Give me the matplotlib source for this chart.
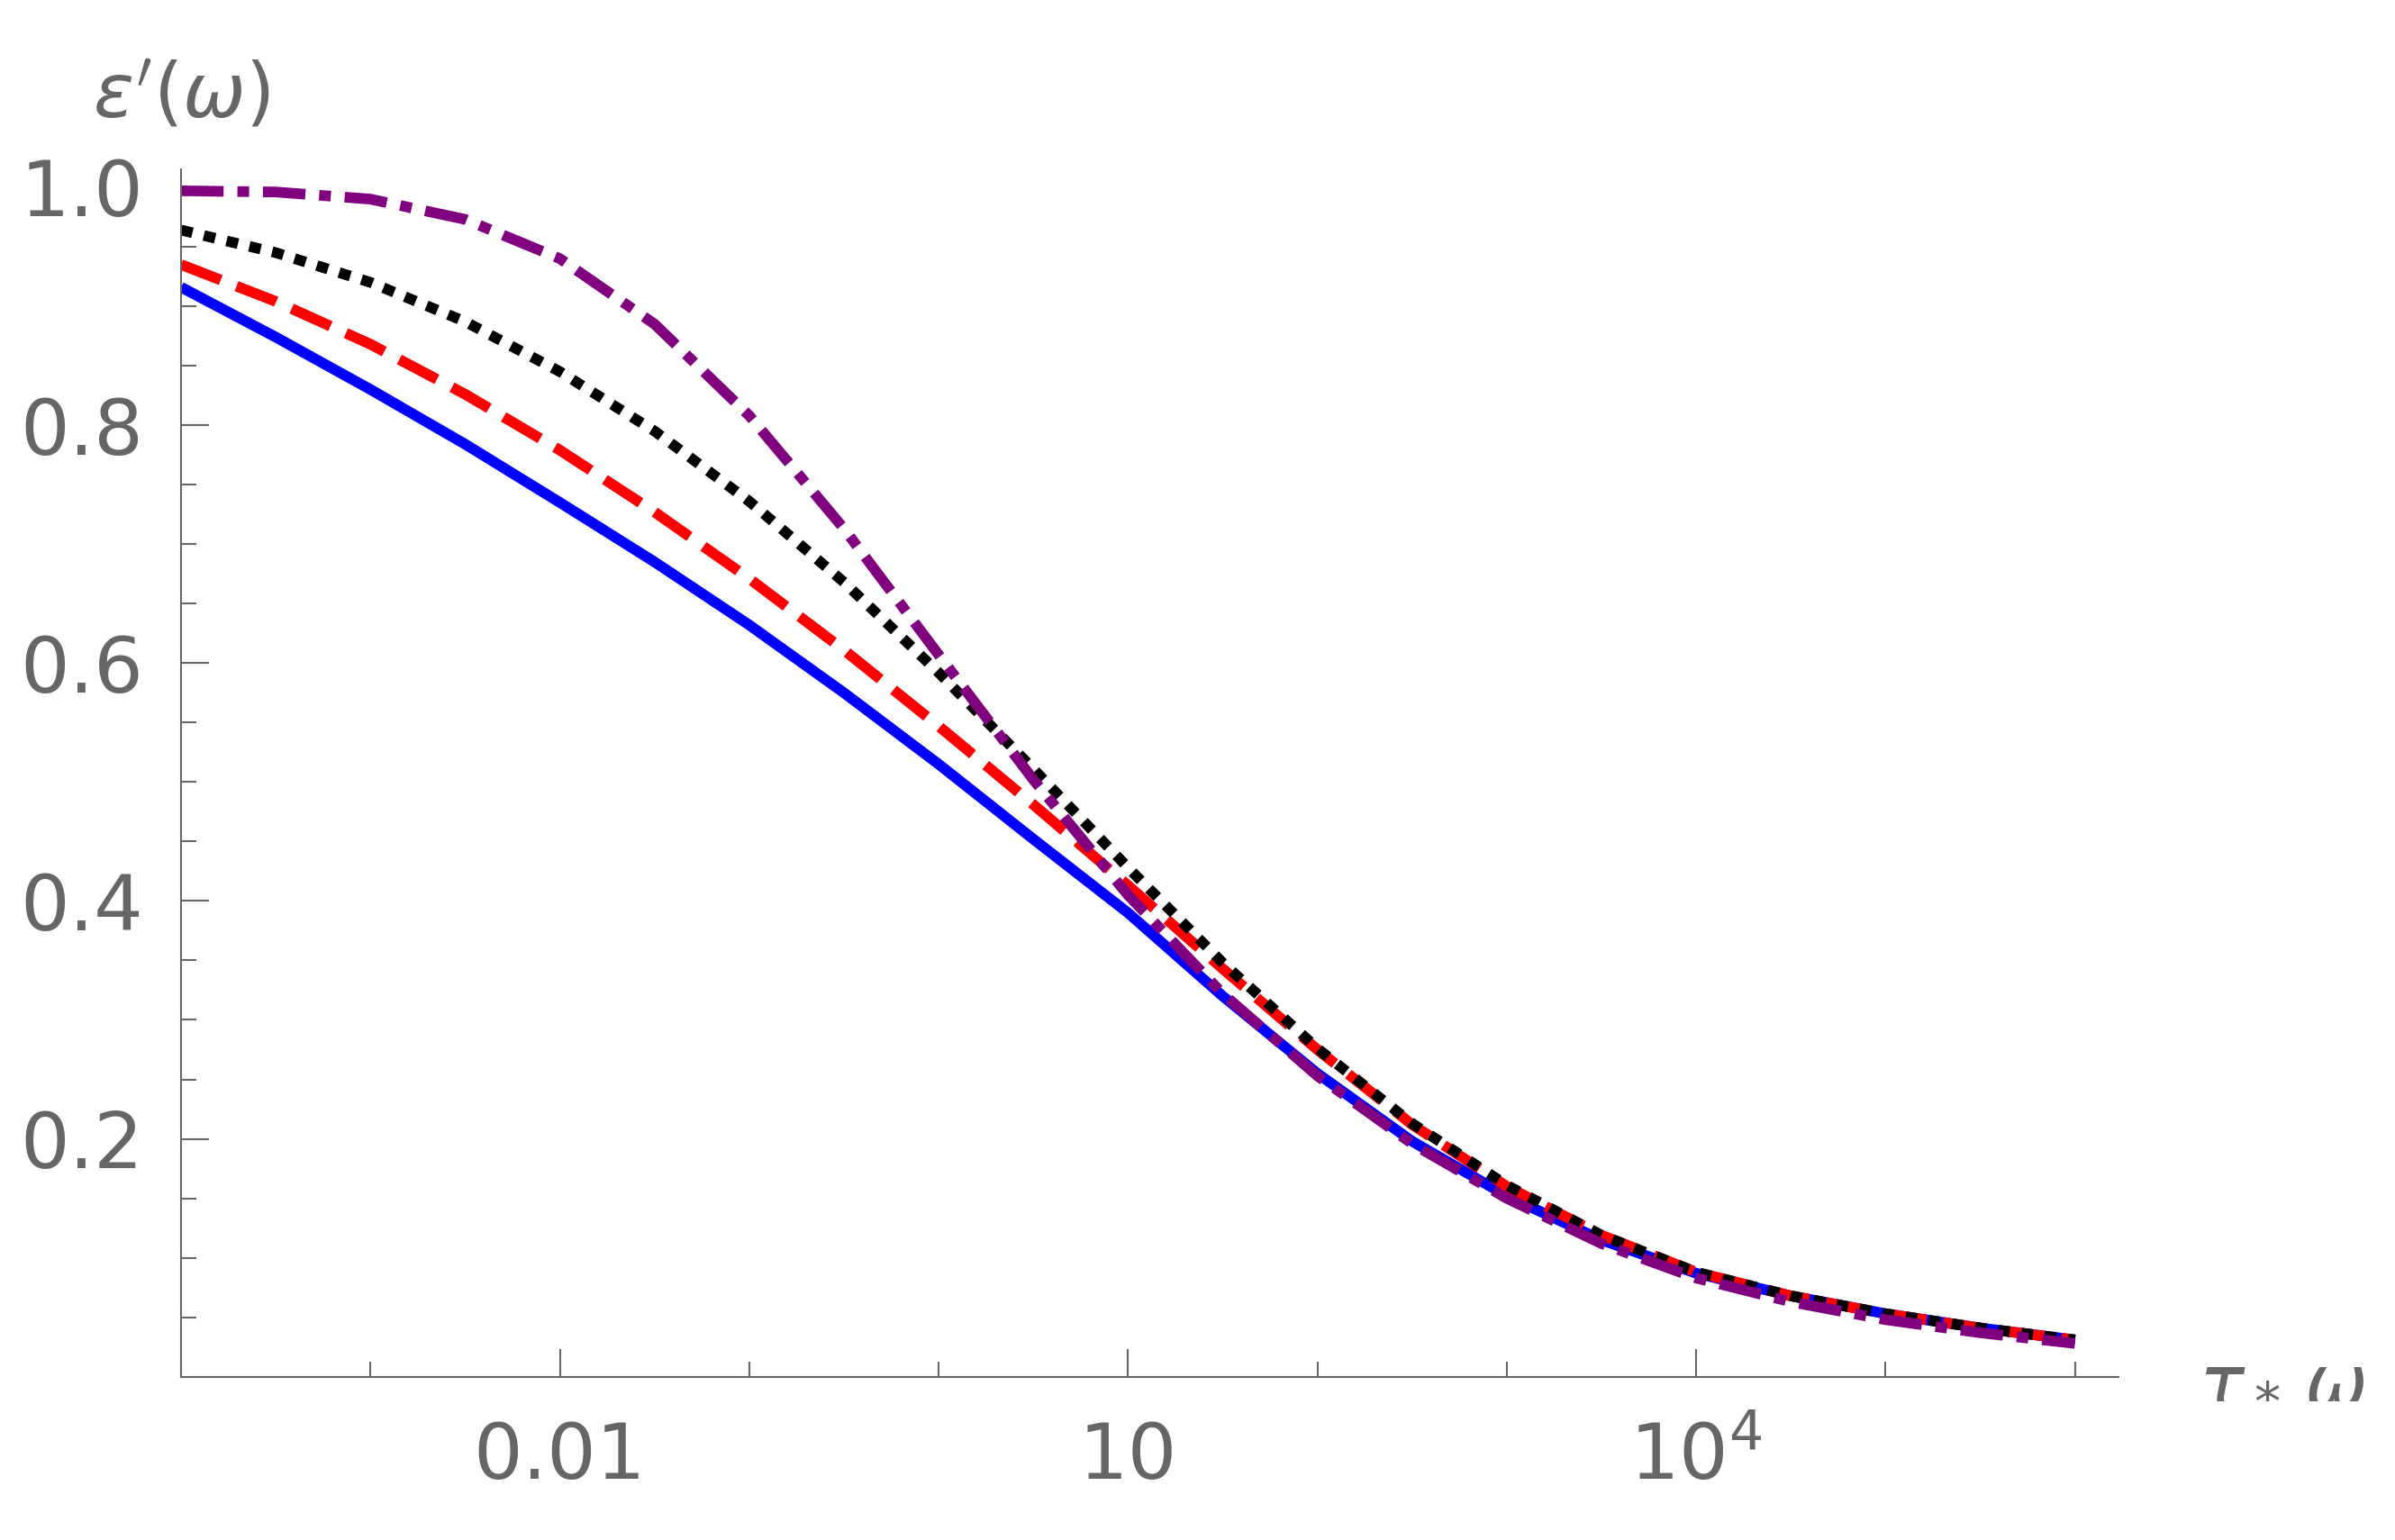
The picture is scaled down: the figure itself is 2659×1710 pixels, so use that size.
import numpy as np
import matplotlib.pyplot as plt
from matplotlib.ticker import FixedLocator, NullFormatter

# tau*omega, half-decade steps from 1e-4 to 1e6
x = 10.0 ** np.arange(-4, 6.01, 0.5)

eps_blue = [0.916, 0.874, 0.83, 0.784, 0.735, 0.685, 0.632, 0.575, 0.515, 0.452, 0.39,
            0.32, 0.255, 0.198, 0.152, 0.115, 0.087, 0.068, 0.053, 0.041, 0.031]
eps_red = [0.935, 0.904, 0.868, 0.826, 0.779, 0.727, 0.671, 0.611, 0.547, 0.481, 0.413,
           0.343, 0.275, 0.212, 0.16, 0.119, 0.088, 0.068, 0.053, 0.041, 0.031]
eps_black = [0.964, 0.945, 0.92, 0.887, 0.845, 0.795, 0.736, 0.668, 0.592, 0.511, 0.428,
             0.348, 0.276, 0.213, 0.161, 0.119, 0.088, 0.068, 0.053, 0.041, 0.031]
eps_purple = [0.997, 0.996, 0.99, 0.973, 0.94, 0.885, 0.808, 0.713, 0.607, 0.502, 0.405,
              0.322, 0.253, 0.196, 0.15, 0.112, 0.083, 0.063, 0.048, 0.037, 0.028]

gray = '#666666'
fig = plt.figure(figsize=(26.59, 17.10), dpi=100)
ax = fig.add_axes([0.0756, 0.106, 0.809, 0.784])

lw = 8.5
ax.plot(x, eps_blue, color='blue', lw=lw, solid_capstyle='butt')
ax.plot(x, eps_red, color='red', lw=lw, dashes=(4, 1.6))
ax.plot(x, eps_black, color='black', lw=lw, dashes=(1.1, 1.1))
ax.plot(x, eps_purple, color='purple', lw=lw, dashes=(4, 1.3, 1.1, 1.3))

ax.set_xscale('log')
ax.set_xlim(1e-4, 1.7e6)
ax.set_ylim(0, 1.015)

for s in ['top', 'right']:
    ax.spines[s].set_visible(False)
for s in ['left', 'bottom']:
    ax.spines[s].set_color(gray)
    ax.spines[s].set_linewidth(1.5)

ax.xaxis.set_major_locator(FixedLocator([0.01, 10, 1e4]))
ax.set_xticklabels(['0.01', '10', r'$10^4$'])
ax.xaxis.set_minor_locator(FixedLocator(10.0 ** np.arange(-4, 7)))
ax.xaxis.set_minor_formatter(NullFormatter())
ax.yaxis.set_major_locator(FixedLocator([0.2, 0.4, 0.6, 0.8, 1.0]))
ax.set_yticklabels(['0.2', '0.4', '0.6', '0.8', '1.0'])
ax.yaxis.set_minor_locator(FixedLocator(np.arange(0.05, 1.01, 0.05)))

ax.tick_params(which='both', direction='in', colors=gray, labelsize=62, width=1.5)
ax.tick_params(which='major', length=22, pad=20)
ax.tick_params(which='minor', length=12)
ax.tick_params(axis='y', which='both', pad=30)
ax.tick_params(axis='x', which='major', pad=35)

ax.text(0.0, 1.03, r"$\varepsilon'(\omega)$", transform=ax.transAxes,
        fontsize=60, color=gray, ha='center', va='bottom')
fig.text(0.918, 0.106, r"$\tau_*\,\omega$", fontsize=60, color=gray,
         ha='left', va='center')

fig.savefig('out.png', dpi=100)
